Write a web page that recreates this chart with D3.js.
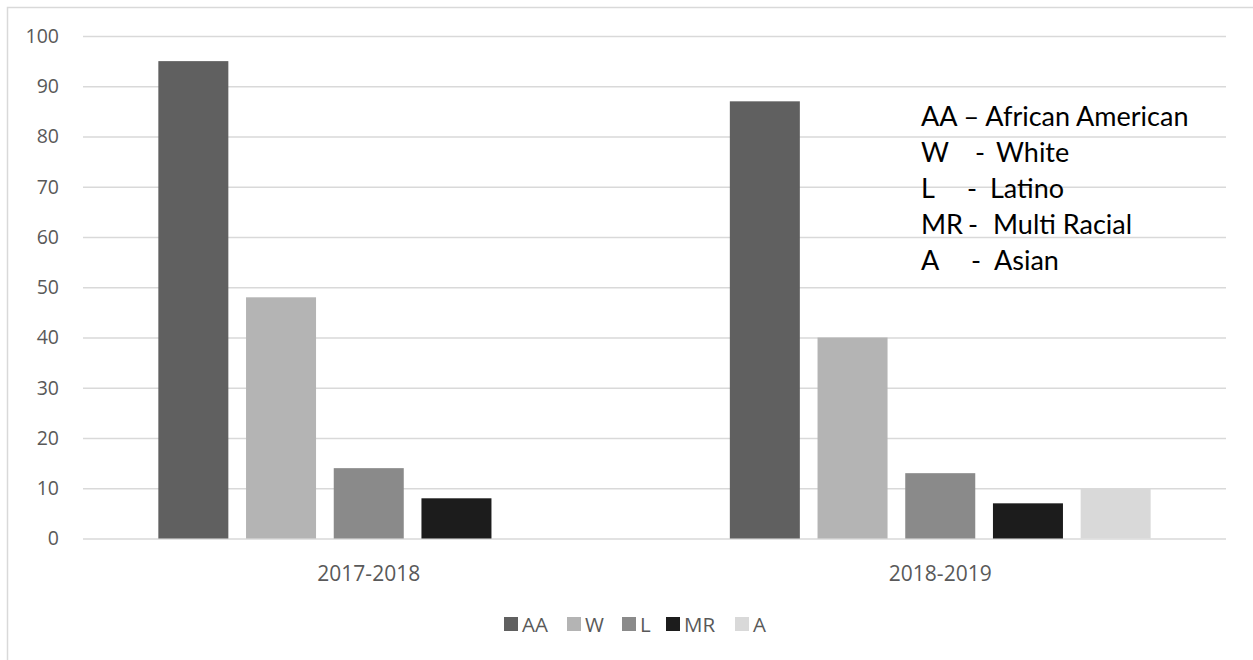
<!DOCTYPE html>
<html>
<head>
<meta charset="utf-8">
<script src="https://cdnjs.cloudflare.com/ajax/libs/d3/7.8.5/d3.min.js"></script>
<style>
  html, body { margin: 0; padding: 0; background: #ffffff; }
  svg { display: block; }
</style>
</head>
<body>
<svg id="chart" width="1253" height="660"></svg>
<script>
// School years on the x axis
const years = ["2017-2018", "2018-2019"];
// Series keys, in legend order
const groups = ["AA", "W", "L", "MR", "A"];
// Values per series, one per school year (null = not reported)
const valuesAA = [95, 87];
const valuesW = [48, 40];
const valuesL = [14, 13];
const valuesMR = [8, 7];
const valuesA = [null, 10];
// Y axis ticks
const yTicks = [0, 10, 20, 30, 40, 50, 60, 70, 80, 90, 100];
// Key explaining the abbreviations
const keyAbbr = ["AA", "W", "L", "MR", "A"];
const keyNames = ["African American", "White", "Latino", "Multi Racial", "Asian"];

const seriesValues = { AA: valuesAA, W: valuesW, L: valuesL, MR: valuesMR, A: valuesA };
const colors = { AA: "#606060", W: "#b4b4b4", L: "#8a8a8a", MR: "#1c1c1c", A: "#d9d9d9" };

const svg = d3.select("#chart");
const plot = { left: 83, right: 1226, top: 36, bottom: 538.5 };
const axisFont = "'Open Sans', 'Noto Sans', sans-serif";

// Chart border
svg.append("rect")
  .attr("x", 7.5).attr("y", 7.5)
  .attr("width", 1260).attr("height", 670)
  .attr("fill", "none").attr("stroke", "#d9d9d9").attr("stroke-width", 1.5);

const y = d3.scaleLinear().domain([0, 100]).range([plot.bottom, plot.top]);
const x0 = d3.scaleBand().domain(years).range([plot.left, plot.right]).padding(0);
const x1 = d3.scaleBand().domain(groups).range([0, x0.bandwidth()])
  .paddingInner(0.2018).paddingOuter(0.859);

// Gridlines + y labels
const yAxis = d3.axisLeft(y).tickValues(yTicks).tickSize(-(plot.right - plot.left)).tickPadding(24);
const gy = svg.append("g").attr("transform", `translate(${plot.left},0)`).call(yAxis);
gy.select(".domain").remove();
gy.selectAll(".tick line").attr("stroke", "#d9d9d9").attr("stroke-width", 1.5);
gy.selectAll(".tick text")
  .attr("fill", "#595959")
  .style("font-family", axisFont)
  .style("font-size", "19.5px");

// Bars
const flat = [];
years.forEach((yr, i) => {
  groups.forEach(g => {
    const v = seriesValues[g][i];
    if (v != null) flat.push({ year: yr, group: g, value: v });
  });
});
svg.append("g").selectAll("rect")
  .data(flat)
  .join("rect")
  .attr("x", d => x0(d.year) + x1(d.group))
  .attr("y", d => y(d.value))
  .attr("width", x1.bandwidth())
  .attr("height", d => y(0) - y(d.value))
  .attr("fill", d => colors[d.group]);

// X category labels
const xAxis = d3.axisBottom(x0).tickSize(0).tickPadding(28);
const gx = svg.append("g").attr("transform", `translate(0,${plot.bottom})`).call(xAxis);
gx.select(".domain").remove();
gx.selectAll(".tick text")
  .attr("fill", "#595959")
  .style("font-family", axisFont)
  .style("font-size", "21px");

// Bottom legend
const legendItems = [
  { key: "AA", x: 504 }, { key: "W", x: 567 }, { key: "L", x: 622 },
  { key: "MR", x: 666 }, { key: "A", x: 735 }
];
const lg = svg.append("g");
legendItems.forEach(it => {
  lg.append("rect").attr("x", it.x).attr("y", 617).attr("width", 14).attr("height", 14)
    .attr("fill", colors[it.key]);
  lg.append("text").attr("x", it.x + 18).attr("y", 631.5)
    .attr("fill", "#595959")
    .style("font-family", axisFont)
    .style("font-size", "20.5px")
    .text(it.key);
});

// Abbreviation key
const keyG = svg.append("g")
  .style("font-family", "Lato, 'Open Sans', sans-serif")
  .style("font-size", "27px")
  .attr("fill", "#000000");
const dashX = [null, 975, 967, 968, 971];
const nameX = [null, 996, 990, 993, 994];
keyAbbr.forEach((ab, i) => {
  const by = 126 + i * 36;
  if (i === 0) {
    keyG.append("text").attr("x", 921).attr("y", by).text(ab + " \u2013 " + keyNames[i]);
  } else {
    keyG.append("text").attr("x", 921).attr("y", by).text(ab);
    keyG.append("text").attr("x", dashX[i]).attr("y", by).text("-");
    keyG.append("text").attr("x", nameX[i]).attr("y", by).text(keyNames[i]);
  }
});
</script>
</body>
</html>
